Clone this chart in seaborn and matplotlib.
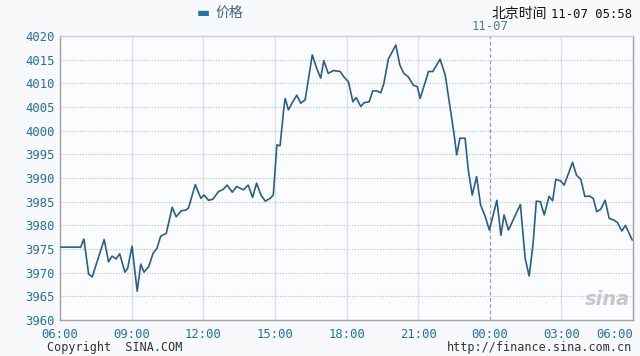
import matplotlib
matplotlib.use("Agg")
import matplotlib.pyplot as plt
import seaborn as sns
import pandas as pd

# minutes since 06:00 (11-06) and price
minutes = [0, 52, 60, 72, 81, 111, 122, 131, 141, 150, 163, 170, 181, 194, 203, 211, 223, 234, 244, 253,
           267, 282, 292, 305, 316, 323, 340, 354, 362, 373, 384, 398, 410, 420, 433, 444, 461, 473, 484, 494,
           505, 516, 528, 536, 545, 553, 563, 566, 574, 585, 595, 605, 616, 624, 634, 645, 655, 663, 674, 687,
           704, 714, 725, 736, 744, 756, 764, 777, 786, 796, 806, 814, 825, 844, 854, 864, 875, 888, 898, 905,
           917, 926, 937, 955, 968, 980, 990, 997, 1005, 1018, 1026, 1036, 1047, 1057, 1069, 1079, 1098, 1108,
           1116, 1127, 1157, 1169, 1179, 1189, 1197, 1207, 1217, 1229, 1238, 1246, 1258, 1267, 1288, 1298,
           1309, 1319, 1330, 1340, 1349, 1359, 1370, 1380, 1392, 1401, 1412, 1421, 1438]
price = [3975.4, 3975.4, 3977.1, 3969.7, 3969.1, 3977.0, 3972.3, 3973.5, 3972.9, 3974.0, 3970.1, 3970.9,
         3975.6, 3966.1, 3971.8, 3970.1, 3971.3, 3974.1, 3975.2, 3977.7, 3978.3, 3983.8, 3981.8, 3983.1,
         3983.2, 3983.7, 3988.6, 3985.7, 3986.4, 3985.3, 3985.5, 3987.1, 3987.6, 3988.5, 3987.0, 3988.2,
         3987.5, 3988.5, 3985.9, 3988.9, 3986.4, 3985.1, 3985.7, 3986.4, 3997.0, 3996.8, 4005.1, 4006.8,
         4004.4, 4006.1, 4007.5, 4005.8, 4006.5, 4010.7, 4016.0, 4013.2, 4011.1, 4014.8, 4012.1, 4012.7,
         4012.5, 4011.3, 4010.3, 4006.1, 4007.0, 4005.1, 4005.9, 4006.1, 4008.4, 4008.4, 4008.0, 4010.0,
         4015.1, 4018.1, 4013.9, 4012.1, 4011.4, 4009.6, 4009.3, 4006.8, 4010.0, 4012.5, 4012.5, 4015.1,
         4011.8, 4005.1, 3999.4, 3994.9, 3998.4, 3998.4, 3991.7, 3986.4, 3990.3, 3984.3, 3981.8, 3979.0,
         3985.3, 3977.9, 3982.2, 3979.0, 3984.4, 3973.0, 3969.3, 3976.2, 3985.1, 3985.0, 3982.2, 3986.1,
         3985.2, 3989.7, 3989.4, 3988.5, 3993.3, 3990.6, 3989.7, 3986.1, 3986.2, 3985.7, 3982.9, 3983.4,
         3985.3, 3981.5, 3981.1, 3980.6, 3978.8, 3980.0, 3976.9]

x_tick_pos = [0, 180, 360, 540, 720, 900, 1080, 1260, 1440]
x_tick_labels = ["06:00", "09:00", "12:00", "15:00", "18:00", "21:00", "00:00", "03:00", "06:00"]
y_ticks = [3960, 3965, 3970, 3975, 3980, 3985, 3990, 3995, 4000, 4005, 4010, 4015, 4020]
day_mark = 1080
day_label = "11-07"
legend_label = "价格"
header_cn = "北京时间"
header_time = "11-07 05:58"

df = pd.DataFrame({"minute": minutes, "price": price})

sns.set_theme(style="white")
plt.rcParams["font.family"] = ["Noto Sans CJK SC", "DejaVu Sans"]

fig = plt.figure(figsize=(6.4, 3.56), dpi=100, facecolor="#f7f9fb")
ax = fig.add_axes([60 / 640, 1 - 320 / 356, (633 - 60) / 640, (320 - 36) / 356])
ax.set_facecolor("#fbfcfe")

sns.lineplot(data=df, x="minute", y="price", ax=ax, color="#285f8c", linewidth=1.2, zorder=3)

ax.set_xlim(0, 1440)
ax.set_ylim(3960, 4020)
ax.set_xticks(x_tick_pos)
ax.set_xticklabels(x_tick_labels)
ax.set_yticks(y_ticks)
ax.set_xlabel("")
ax.set_ylabel("")

mono = "DejaVu Sans Mono"
ax.tick_params(axis="both", length=0, colors="#2471a8", labelsize=8.8)
ax.tick_params(axis="x", pad=6)
ax.tick_params(axis="y", pad=4)
for lab in ax.get_xticklabels() + ax.get_yticklabels():
    lab.set_family(mono)
ax.get_xticklabels()[-1].set_horizontalalignment("right")

# grid
for xv in x_tick_pos[1:-1]:
    if xv != day_mark:
        ax.axvline(xv, color="#dcdfe3", linewidth=1.0, zorder=1)
for yv in y_ticks[1:-1]:
    ax.axhline(yv, color="#b9bec4", linewidth=0.8, linestyle=(0, (1, 1.5)), zorder=1)
ax.axvline(day_mark, color="#9aa0a6", linewidth=0.9, linestyle=(0, (3, 2)), zorder=2)

for side in ["left", "bottom", "right"]:
    ax.spines[side].set_color("#9ea3a8")
    ax.spines[side].set_linewidth(1.0)
ax.spines["top"].set_color("#c9cdd1")
ax.spines["top"].set_linewidth(1.0)

# texts
ax.text(day_mark, 4020.6, day_label, ha="center", va="bottom", family=mono,
        fontsize=8.8, color="#4c7d9e")
fig.text(197 / 640, 1 - 13 / 356, "▬", ha="left", va="center", color="#2471a8", fontsize=10,
         family=["DejaVu Sans"])
fig.text(215 / 640, 1 - 13 / 356, legend_label, ha="left", va="center", color="#3c6584", fontsize=10)
fig.text(547 / 640, 1 - 14 / 356, header_cn, ha="right", va="center", color="#111111", fontsize=10)
fig.text(632 / 640, 1 - 14 / 356, header_time, ha="right", va="center", color="#111111",
         fontsize=8.8, family=mono)
fig.text(47 / 640, 1 - 347 / 356, "Copyright  SINA.COM", ha="left", va="center", color="#333333",
         fontsize=8.5, family=mono)
fig.text(632 / 640, 1 - 347 / 356, "http://finance.sina.com.cn", ha="right", va="center",
         color="#333333", fontsize=8.5, family=mono)
ax.text(0.995, 0.04, "sina", transform=ax.transAxes, ha="right", va="bottom", fontsize=14,
        style="italic", fontweight="bold", color="#c4c7cb", family=["DejaVu Sans"], zorder=2)

fig.savefig("out.png", dpi=100, facecolor=fig.get_facecolor())
